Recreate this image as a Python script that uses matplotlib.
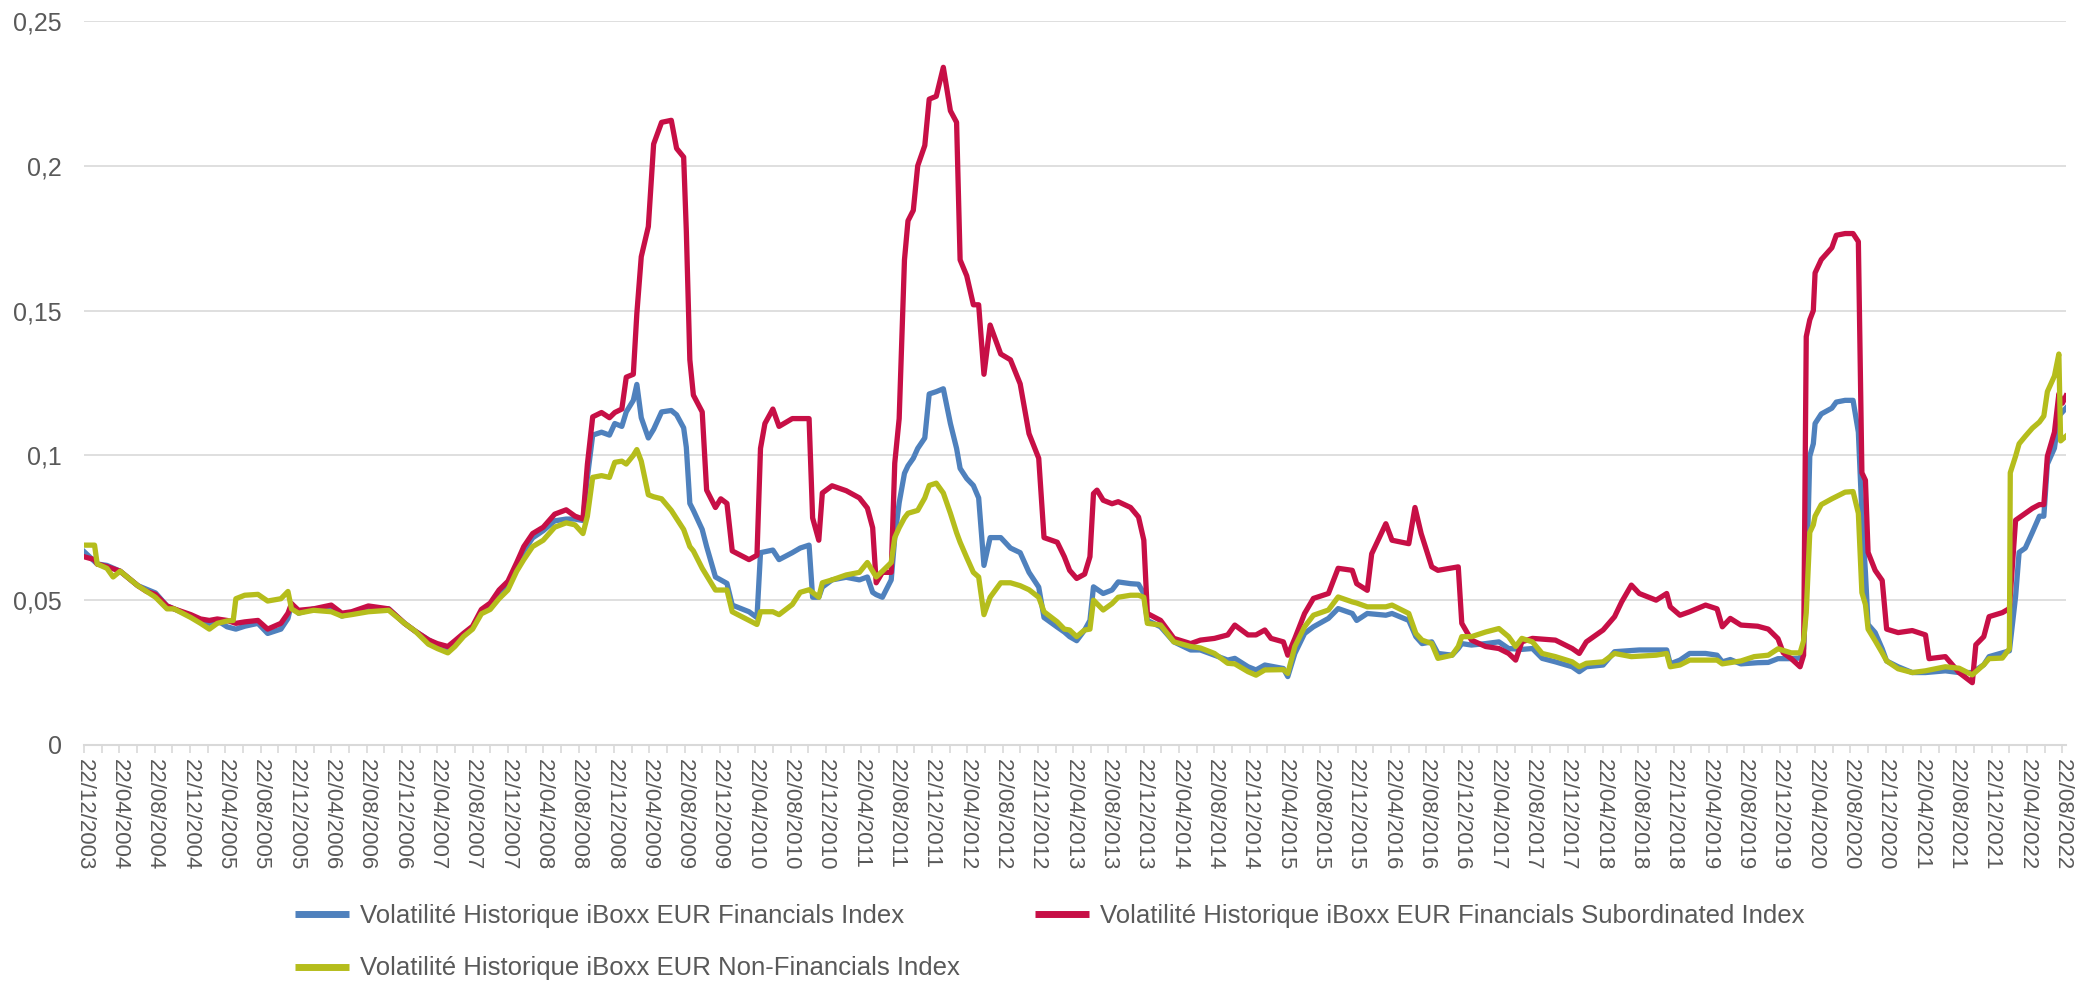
import numpy as np
import pandas as pd
import matplotlib
matplotlib.use('Agg')
import matplotlib.pyplot as plt

# mois écoulés depuis le 22/12/2003 -> volatilité
fin_mois = [0, 1.5, 2.6, 4.1, 6.1, 8.1, 9.4, 10.2, 12.1, 13.2, 14.2, 15.1, 16.2, 17.2, 18.2, 19.7,
            20.8, 22.3, 23.1, 23.5, 24.3, 26, 28, 29.2, 30.3, 32.2, 34.5, 36.3, 37.5, 39, 40, 41.2,
            42, 43, 44, 45, 46, 47, 48, 49, 49.8, 50.8, 52, 53.3, 54.6, 55.6, 56.5, 57, 57.6, 58.6,
            59.5, 60.1, 60.9, 61.4, 62.2, 62.6, 63.1, 63.9, 64.5, 65.4, 66.5, 67.1, 67.9, 68.2, 68.6,
            69, 70, 70.5, 71.5, 72.8, 73.4, 75.3, 76.2, 76.6, 78, 78.7, 80.2, 81.1, 82.1, 82.5, 83.2,
            83.6, 84.7, 86.3, 87.8, 88.7, 89.3, 89.7, 90.4, 91.4, 91.8, 92.3, 92.9, 93.3, 93.9, 94.4,
            95.2, 95.7, 96.5, 97.3, 98.1, 98.8, 99.2, 99.95, 100.7, 101.3, 101.9, 102.6, 103.8, 104.9,
            106, 107, 108.1, 108.7, 110.2, 111, 111.6, 112.4, 113.3, 113.9, 114.3, 115.4, 116.4,
            117.1, 118.5, 119.4, 120, 120.4, 121.9, 123.4, 125.3, 126.4, 128, 129.5, 130.3, 131.8,
            132.7, 133.7, 135.8, 136.3, 137.1, 138.2, 139.2, 140.9, 142, 143.6, 144.1, 145.3, 147.4,
            148.1, 150, 150.8, 151.5, 152.6, 153.3, 154.9, 155.6, 156, 157.1, 158.7, 160.2, 161.3,
            162.8, 164, 165.1, 166.6, 168.5, 169.3, 170.1, 172, 173.3, 176.1, 178, 179.2, 179.6,
            180.7, 181.8, 183.6, 184.9, 185.5, 186.4, 187.6, 189.5, 190.7, 191.8, 193.3, 194.3,
            194.7, 195, 195.4, 195.8, 196, 196.7, 197.9, 198.4, 199.4, 200.3, 200.9, 201.1, 201.3,
            201.7, 202, 202.8, 203.6, 204.1, 205.4, 207, 208.5, 210.75, 212.3, 213.8, 215.1, 215.7,
            217.2, 218, 218.7, 219.1, 219.8, 220.6, 221.4, 221.9, 222.3, 223.1, 223.6, 224.4]
fin_vol = [0.0668, 0.0625, 0.062, 0.060, 0.055, 0.0525, 0.048, 0.047, 0.0445, 0.043, 0.042, 0.043,
           0.0408, 0.040, 0.041, 0.042, 0.0385, 0.040, 0.0437, 0.0488, 0.0455, 0.047, 0.047, 0.0445,
           0.0455, 0.047, 0.047, 0.042, 0.0393, 0.0363, 0.0345, 0.0333, 0.0352, 0.0383, 0.0405,
           0.046, 0.048, 0.052, 0.0545, 0.061, 0.067, 0.0715, 0.074, 0.0774, 0.078, 0.078, 0.0775,
           0.0924, 0.107, 0.108, 0.107, 0.111, 0.110, 0.115, 0.119, 0.1245, 0.113, 0.106, 0.109,
           0.115, 0.1155, 0.114, 0.1095, 0.1028, 0.0834, 0.081, 0.0744, 0.0685, 0.058, 0.0558,
           0.0483, 0.046, 0.044, 0.0664, 0.0673, 0.064, 0.0664, 0.068, 0.069, 0.051, 0.051, 0.0545,
           0.057, 0.0579, 0.057, 0.058, 0.0527, 0.0519, 0.051, 0.057, 0.0716, 0.0836, 0.0938,
           0.0964, 0.099, 0.1024, 0.106, 0.1212, 0.122, 0.123, 0.111, 0.1024, 0.0955, 0.092, 0.0896,
           0.0853, 0.062, 0.0716, 0.0716, 0.068, 0.0664, 0.0596, 0.0545, 0.044, 0.0407, 0.039,
           0.0374, 0.036, 0.0397, 0.043, 0.0546, 0.0523, 0.0535, 0.0563, 0.0557, 0.0555, 0.0523,
           0.043, 0.0408, 0.0356, 0.0328, 0.0328, 0.031, 0.0293, 0.0299, 0.027, 0.0259, 0.0276,
           0.0264, 0.0236, 0.0316, 0.0385, 0.0408, 0.0437, 0.0471, 0.0454, 0.043, 0.0454, 0.0448,
           0.0454, 0.043, 0.0374, 0.035, 0.0356, 0.0316, 0.031, 0.0333, 0.035, 0.0345, 0.035,
           0.0356, 0.0333, 0.033, 0.0333, 0.0299, 0.0287, 0.027, 0.0253, 0.027, 0.0276, 0.0322,
           0.0328, 0.0328, 0.0328, 0.028, 0.0293, 0.0316, 0.0316, 0.031, 0.0287, 0.0295, 0.028,
           0.0284, 0.0285, 0.0298, 0.0298, 0.030, 0.0332, 0.0526, 0.0997, 0.104, 0.111, 0.1143,
           0.1163, 0.1184, 0.119, 0.119, 0.108, 0.094, 0.080, 0.0596, 0.0416, 0.0388, 0.0332,
           0.029, 0.027, 0.025, 0.025, 0.0256, 0.025, 0.025, 0.0277, 0.0305, 0.0318, 0.0325,
           0.0512, 0.0665, 0.068, 0.0734, 0.079, 0.079, 0.097, 0.1025, 0.1136, 0.1163]

sub_mois = [0, 1.2, 1.5, 2.6, 4.1, 6.1, 7.1, 8.1, 9.4, 10.2, 12.1, 13.2, 14.2, 15.1, 16.2, 17.2, 18.2,
            19.7, 20.8, 22.3, 23.1, 23.5, 24.3, 26, 28, 29.2, 30.3, 32.2, 34.5, 36.3, 37.5, 39, 40,
            41.2, 42, 43, 44, 45, 46, 47, 48, 49, 49.8, 50.8, 52, 53.3, 54.6, 55.6, 56.5, 57, 57.6,
            58.6, 59.5, 60.1, 60.9, 61.4, 62.2, 62.6, 63.1, 63.9, 64.5, 65.4, 66.5, 67.1, 67.9, 68.2,
            68.6, 69, 70, 70.5, 71.5, 72.1, 72.8, 73.4, 75.3, 76.2, 76.6, 77.1, 78, 78.7, 80.2, 82.1,
            82.5, 83.2, 83.6, 84.7, 86.3, 87.8, 88.7, 89.3, 89.7, 90.4, 91.4, 91.8, 92.3, 92.9, 93.3,
            93.9, 94.4, 95.2, 95.7, 96.5, 97.3, 98.1, 98.8, 99.2, 99.95, 100.7, 101.3, 101.9, 102.6,
            103.8, 104.9, 106, 107, 108.1, 108.7, 110.2, 111, 111.6, 112.4, 113.3, 113.9, 114.3,
            114.7, 115.4, 116.4, 117.1, 118.5, 119.4, 120, 120.4, 121.9, 123.4, 125.3, 126.4, 128,
            129.5, 130.3, 131.8, 132.7, 133.7, 134.4, 135.8, 136.3, 137.1, 138.2, 139.2, 140.9, 142,
            143.6, 144.1, 145.3, 145.8, 147.4, 148.1, 150, 150.7, 151.4, 152.6, 153.3, 155.6, 156,
            157.1, 158.7, 160.2, 161.3, 162.1, 162.8, 164, 166.6, 168.5, 169.3, 170.1, 172, 173.3,
            174.1, 175.2, 176.1, 178, 179.2, 179.6, 180.7, 181.8, 183.6, 184.9, 185.5, 186.4, 187.6,
            189.5, 190.7, 191.8, 192.4, 193.3, 194.3, 194.7, 195, 195.4, 195.8, 196, 196.7, 197.9,
            198.4, 199.4, 200.3, 200.9, 201.1, 201.3, 201.7, 202, 202.8, 203.6, 204.1, 205.4, 207,
            208.5, 208.9, 210.75, 212.3, 213.8, 214.2, 215.1, 215.7, 217.2, 218, 218.7, 219.8, 220.6,
            221.4, 221.9, 222.3, 223.1, 223.6, 224, 224.4]
sub_vol = [0.065, 0.064, 0.0625, 0.0616, 0.060, 0.055, 0.053, 0.052, 0.048, 0.047, 0.045, 0.0435,
           0.043, 0.0435, 0.043, 0.042, 0.0425, 0.043, 0.040, 0.042, 0.0455, 0.0488, 0.0465, 0.047,
           0.0483, 0.0455, 0.046, 0.048, 0.047, 0.042, 0.0393, 0.0363, 0.035, 0.034, 0.036, 0.0386,
           0.041, 0.0468, 0.049, 0.0535, 0.0565, 0.063, 0.0685, 0.073, 0.0752, 0.0797, 0.0812,
           0.079, 0.078, 0.0969, 0.1133, 0.1148, 0.113, 0.1148, 0.116, 0.127, 0.128, 0.149, 0.1686,
           0.179, 0.2075, 0.215, 0.2157, 0.206, 0.203, 0.1776, 0.133, 0.1208, 0.115, 0.088, 0.082,
           0.085, 0.0834, 0.067, 0.064, 0.0655, 0.1024, 0.111, 0.116, 0.110, 0.1127, 0.1127, 0.0784,
           0.0707, 0.087, 0.0895, 0.0878, 0.0853, 0.0818, 0.075, 0.056, 0.0596, 0.0596, 0.0973,
           0.1127, 0.1675, 0.181, 0.1846, 0.200, 0.207, 0.223, 0.224, 0.234, 0.219, 0.215, 0.1675,
           0.162, 0.152, 0.152, 0.128, 0.145, 0.135, 0.133, 0.1247, 0.1075, 0.099, 0.0716, 0.070,
           0.065, 0.0603, 0.0575, 0.059, 0.065, 0.0868, 0.088, 0.0845, 0.0833, 0.084, 0.082, 0.0787,
           0.0707, 0.0454, 0.043, 0.0368, 0.035, 0.0362, 0.0368, 0.038, 0.0414, 0.038, 0.038,
           0.0397, 0.0368, 0.0356, 0.031, 0.0368, 0.0454, 0.0506, 0.0523, 0.061, 0.0603, 0.0557,
           0.0534, 0.066, 0.0764, 0.0707, 0.0695, 0.082, 0.073, 0.0615, 0.0603, 0.0615, 0.042,
           0.0362, 0.034, 0.0333, 0.0316, 0.0293, 0.0356, 0.0368, 0.0362, 0.0333, 0.0316, 0.0356,
           0.0397, 0.0443, 0.0494, 0.0552, 0.0523, 0.050, 0.0523, 0.0477, 0.0448, 0.046, 0.0483,
           0.047, 0.0408, 0.0437, 0.0414, 0.041, 0.040, 0.0367, 0.0318, 0.0298, 0.027, 0.031, 0.141,
           0.1468, 0.150, 0.163, 0.1676, 0.1717, 0.176, 0.1766, 0.1766, 0.1738, 0.133, 0.094,
           0.0914, 0.0665, 0.0603, 0.0568, 0.040, 0.0388, 0.0395, 0.038, 0.0298, 0.0305, 0.025,
           0.0215, 0.0346, 0.0374, 0.0443, 0.0457, 0.0471, 0.0776, 0.080, 0.0817, 0.083, 0.083,
           0.0997, 0.108, 0.1212, 0.118, 0.1205]

nonfin_mois = [0, 1.2, 1.5, 2.6, 3.3, 4.1, 6.1, 7.1, 8.1, 9.4, 10.2, 12.1, 13.2, 14.2, 15.1, 16.2,
               16.9, 17.2, 18.2, 19.7, 20.8, 22.3, 23.1, 23.5, 24.3, 26, 28, 29.2, 30.3, 32.2, 34.5,
               36.3, 37.5, 39, 40, 41.2, 42, 43, 44, 45, 46, 47, 48, 49, 49.8, 50.8, 52, 53.3, 54.6,
               55.6, 56.5, 57, 57.6, 58.6, 59.5, 60.1, 60.9, 61.4, 62.2, 62.6, 63.1, 63.9, 64.5,
               65.4, 66.5, 67.9, 68.6, 69, 70, 71.5, 72.8, 73.4, 75.3, 76.2, 76.6, 78, 78.7, 80.2,
               81.1, 82.1, 83.2, 83.6, 84.7, 86.3, 87.8, 88.7, 89.7, 90.4, 91.4, 91.8, 92.3, 92.9,
               93.3, 94.4, 95.2, 95.7, 96.5, 97.3, 98.1, 98.8, 99.2, 99.95, 100.7, 101.3, 101.9,
               102.6, 103.8, 104.9, 106, 107, 108.1, 108.7, 110.2, 111, 111.6, 112.4, 113.3, 113.9,
               114.3, 115.4, 116.4, 117.1, 118.5, 119.4, 120, 120.4, 121.9, 123.4, 125.3, 126.4, 128,
               129.5, 130.3, 131.8, 132.7, 133.7, 135.8, 136.3, 137.1, 138.2, 139.2, 140.9, 142,
               143.6, 144.1, 145.3, 147.4, 148.1, 150, 150.8, 151.5, 152.6, 153.3, 154.9, 155.6, 156,
               157.1, 158.7, 160.2, 161.3, 162.1, 162.8, 164, 165.1, 166.6, 168.5, 169.3, 170.1, 172,
               173.3, 175.2, 178, 179.2, 179.6, 180.7, 181.8, 184.9, 185.5, 187.6, 189.1, 190.7,
               191.8, 193.3, 194.3, 194.7, 195, 195.4, 195.8, 196, 196.7, 197.9, 199.4, 200.3, 200.9,
               201.1, 201.3, 201.7, 202, 202.8, 203.6, 204.1, 205.4, 207, 208.5, 210.75, 212.3,
               213.8, 215.1, 215.7, 217.2, 218, 218.1, 218.7, 219.1, 219.8, 220.6, 221.4, 221.9,
               222.3, 223.1, 223.6, 223.8, 224.4]
nonfin_vol = [0.069, 0.069, 0.0625, 0.061, 0.058, 0.060, 0.055, 0.053, 0.051, 0.047, 0.047, 0.044,
              0.042, 0.040, 0.042, 0.0428, 0.043, 0.0505, 0.0517, 0.052, 0.0497, 0.0505, 0.053,
              0.047, 0.0455, 0.0465, 0.046, 0.0445, 0.045, 0.046, 0.0465, 0.042, 0.0393, 0.0348,
              0.0333, 0.0318, 0.034, 0.0375, 0.040, 0.0453, 0.0468, 0.0505, 0.0535, 0.060, 0.064,
              0.0685, 0.0707, 0.0752, 0.0767, 0.076, 0.073, 0.079, 0.0924, 0.093, 0.0924, 0.0976,
              0.098, 0.097, 0.100, 0.102, 0.098, 0.0864, 0.0857, 0.085, 0.081, 0.0744, 0.0685,
              0.067, 0.061, 0.0535, 0.0535, 0.046, 0.043, 0.0416, 0.046, 0.046, 0.045, 0.0485,
              0.0527, 0.0536, 0.051, 0.056, 0.057, 0.0587, 0.0596, 0.063, 0.058, 0.060, 0.063,
              0.0716, 0.075, 0.0784, 0.080, 0.081, 0.0853, 0.0896, 0.0904, 0.087, 0.080, 0.0733,
              0.070, 0.0647, 0.0596, 0.058, 0.045, 0.051, 0.056, 0.056, 0.055, 0.0536, 0.051, 0.046,
              0.0425, 0.040, 0.0397, 0.0374, 0.0397, 0.040, 0.050, 0.0466, 0.0488, 0.051, 0.0517,
              0.0517, 0.051, 0.042, 0.0414, 0.0356, 0.034, 0.0335, 0.0316, 0.0282, 0.028, 0.0253,
              0.0241, 0.0259, 0.026, 0.0247, 0.034, 0.0408, 0.0448, 0.0466, 0.0511, 0.0494, 0.049,
              0.0477, 0.0477, 0.0483, 0.0454, 0.0385, 0.0362, 0.035, 0.0299, 0.031, 0.034, 0.0374,
              0.0374, 0.039, 0.0402, 0.0374, 0.034, 0.0368, 0.0356, 0.0316, 0.0305, 0.0287, 0.027,
              0.0282, 0.0287, 0.0316, 0.0305, 0.031, 0.0316, 0.027, 0.0276, 0.0293, 0.0293, 0.028,
              0.029, 0.0305, 0.031, 0.0332, 0.0318, 0.0318, 0.036, 0.0457, 0.0734, 0.076, 0.079,
              0.083, 0.085, 0.0873, 0.0875, 0.080, 0.0665, 0.0526, 0.0485, 0.040, 0.036, 0.0318,
              0.029, 0.0263, 0.025, 0.0256, 0.027, 0.0265, 0.0242, 0.0277, 0.0298, 0.030, 0.0332,
              0.094, 0.0997, 0.104, 0.1066, 0.1094, 0.1115, 0.1136, 0.122, 0.1274, 0.135, 0.105,
              0.1066]

series_labels = ['Volatilité Historique iBoxx EUR Financials Index',
                 'Volatilité Historique iBoxx EUR Financials Subordinated Index',
                 'Volatilité Historique iBoxx EUR Non-Financials Index']
couleurs = ['#4F81BD', '#C70F46', '#B5BD1C']

date_debut = pd.Timestamp('2003-12-22')
mois_labels = list(range(0, 225, 4))
tick_labels = [(date_debut + pd.DateOffset(months=m)).strftime('%d/%m/%Y') for m in mois_labels]

plt.rcParams['font.family'] = ['Liberation Sans', 'DejaVu Sans']
gris_texte = '#595959'
gris_grille = '#D9D9D9'

fig = plt.figure(figsize=(20.83, 9.85), dpi=100)
ax = fig.add_axes([0.0403, 0.2437, 0.9515, 0.735])

lignes = []
for mois, vol, lab, c in [(fin_mois, fin_vol, series_labels[0], couleurs[0]),
                          (sub_mois, sub_vol, series_labels[1], couleurs[1]),
                          (nonfin_mois, nonfin_vol, series_labels[2], couleurs[2])]:
    l, = ax.plot(mois, vol, color=c, lw=3.8, label=lab, solid_joinstyle='round')
    lignes.append(l)

ax.set_xlim(0, 224.4)
ax.set_ylim(0, 0.25)
yt = [0, 0.05, 0.1, 0.15, 0.2, 0.25]
ax.set_yticks(yt)
ax.set_yticklabels(['0', '0,05', '0,1', '0,15', '0,2', '0,25'])
ax.set_xticks(mois_labels)
ax.set_xticklabels(tick_labels, rotation=-90)
ax.set_xticks(list(range(2, 225, 4)), minor=True)

ax.grid(True, axis='y', color=gris_grille, lw=1.2)
ax.set_axisbelow(True)
for s in ['top', 'right', 'left']:
    ax.spines[s].set_visible(False)
ax.spines['bottom'].set_color(gris_grille)
ax.spines['bottom'].set_linewidth(1.5)
ax.tick_params(axis='y', length=0, pad=16, labelsize=18, labelcolor=gris_texte)
ax.tick_params(axis='x', which='both', length=6, color=gris_grille, width=1.2,
               pad=4, labelsize=16, labelcolor=gris_texte)

# légende : colonne 1 = bleu, jaune ; colonne 2 = rouge
leg = fig.legend([lignes[0], lignes[2], lignes[1]],
                 [series_labels[0], series_labels[2], series_labels[1]],
                 ncol=2, loc='upper left', bbox_to_anchor=(0.1416, 0.082),
                 frameon=False, fontsize=18.5, handlelength=2.1, handletextpad=0.45,
                 columnspacing=2.9, labelspacing=1.1, borderpad=0, borderaxespad=0)
for t in leg.get_texts():
    t.set_color(gris_texte)
for h in leg.get_lines():
    h.set_linewidth(5)
    h.set_solid_capstyle('butt')

fig.savefig('out.png', dpi=100)
